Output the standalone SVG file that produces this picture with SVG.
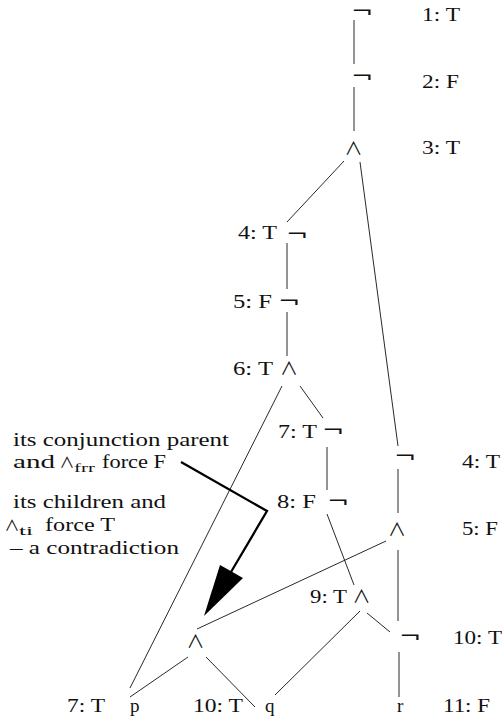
<svg xmlns="http://www.w3.org/2000/svg" width="502" height="724" viewBox="0 0 502 724">
<style>
.t{font-family:"Liberation Serif","DejaVu Serif",serif;font-size:19px;fill:#111}
.sub{font-size:13px}
.neg{font-family:"DejaVu Sans",sans-serif;font-size:19px;fill:#111}
.and{font-family:"Noto Sans CJK JP","DejaVu Sans",sans-serif;font-size:18px;fill:#111;text-anchor:middle}
.nand{font-size:15px}
.e{stroke:#111;stroke-width:0.9;fill:none}
.thick{stroke:#000;stroke-width:2.3;fill:none}
</style>
<rect width="502" height="724" fill="#fff"/>
<g id="edges">
<line class="e" x1="354" y1="20" x2="354" y2="64"/>
<line class="e" x1="354" y1="87" x2="354" y2="131"/>
<line class="e" x1="344" y1="161" x2="287" y2="222"/>
<line class="e" x1="360" y1="162" x2="398" y2="446"/>
<line class="e" x1="287" y1="243" x2="287" y2="289"/>
<line class="e" x1="287" y1="312" x2="287" y2="356"/>
<line class="e" x1="282" y1="386" x2="130" y2="688"/>
<line class="e" x1="300" y1="386" x2="323" y2="418"/>
<line class="e" x1="327" y1="447" x2="327" y2="490"/>
<line class="e" x1="327" y1="514" x2="354" y2="585"/>
<line class="e" x1="360" y1="611" x2="275" y2="695"/>
<line class="e" x1="367" y1="613" x2="390" y2="632"/>
<line class="e" x1="399" y1="652" x2="399" y2="697"/>
<line class="e" x1="398" y1="469" x2="398" y2="513"/>
<line class="e" x1="398" y1="550" x2="398" y2="621"/>
<line class="e" x1="386" y1="541" x2="197" y2="629"/>
<line class="e" x1="188" y1="657" x2="130" y2="697"/>
<line class="e" x1="206" y1="657" x2="255" y2="707"/>
</g>
<g id="n1"><text class="neg" transform="translate(351,18) scale(1.4,1)">¬</text><text class="t" x="422" y="21" textLength="38" lengthAdjust="spacingAndGlyphs">1: T</text></g>
<g id="n2"><text class="neg" transform="translate(351,83) scale(1.4,1)">¬</text><text class="t" x="422" y="88" textLength="37" lengthAdjust="spacingAndGlyphs">2: F</text></g>
<g id="n3"><text class="and" x="353.5" y="155">∧</text><text class="t" x="422" y="154" textLength="38" lengthAdjust="spacingAndGlyphs">3: T</text></g>
<g id="n4l"><text class="t" x="238" y="239" textLength="39" lengthAdjust="spacingAndGlyphs">4: T</text><text class="neg" transform="translate(286,241) scale(1.4,1)">¬</text></g>
<g id="n5l"><text class="t" x="233" y="308" textLength="39" lengthAdjust="spacingAndGlyphs">5: F</text><text class="neg" transform="translate(278,308) scale(1.4,1)">¬</text></g>
<g id="n6"><text class="t" x="233" y="375" textLength="40" lengthAdjust="spacingAndGlyphs">6: T</text><text class="and" x="289" y="375">∧</text></g>
<g id="n7"><text class="t" x="278" y="438" textLength="39" lengthAdjust="spacingAndGlyphs">7: T</text><text class="neg" transform="translate(322,437) scale(1.4,1)">¬</text></g>
<g id="n8"><text class="t" x="277" y="508" textLength="39" lengthAdjust="spacingAndGlyphs">8: F</text><text class="neg" transform="translate(327,508) scale(1.4,1)">¬</text></g>
<g id="n9"><text class="t" x="310" y="603" textLength="37" lengthAdjust="spacingAndGlyphs">9: T</text><text class="and" x="361.5" y="603">∧</text></g>
<g id="n4r"><text class="neg" transform="translate(394,463) scale(1.4,1)">¬</text><text class="t" x="462" y="468" textLength="38" lengthAdjust="spacingAndGlyphs">4: T</text></g>
<g id="n5r"><text class="and" x="397" y="536">∧</text><text class="t" x="462" y="535" textLength="36" lengthAdjust="spacingAndGlyphs">5: F</text></g>
<g id="n10r"><text class="neg" transform="translate(399,643) scale(1.4,1)">¬</text><text class="t" x="453" y="644" textLength="49" lengthAdjust="spacingAndGlyphs">10: T</text></g>
<g id="nr"><text class="t" x="397" y="712">r</text><text class="t" x="443" y="712" textLength="47" lengthAdjust="spacingAndGlyphs">11: F</text></g>
<g id="nand"><text class="and" x="195.5" y="648">∧</text></g>
<g id="np"><text class="t" x="67" y="712" textLength="38" lengthAdjust="spacingAndGlyphs">7: T</text><text class="t" x="130" y="712">p</text></g>
<g id="nq"><text class="t" x="193" y="712" textLength="50" lengthAdjust="spacingAndGlyphs">10: T</text><text class="t" x="265" y="712">q</text></g>
<g id="note">
<text class="t" x="13" y="446" textLength="216" lengthAdjust="spacingAndGlyphs">its conjunction parent</text>
<text class="t" x="13" y="468" textLength="42" lengthAdjust="spacingAndGlyphs">and</text>
<text class="and nand" x="67" y="468">∧</text>
<text class="t sub" x="74" y="472" textLength="21" lengthAdjust="spacingAndGlyphs">frr</text>
<text class="t" x="102" y="468" textLength="64" lengthAdjust="spacingAndGlyphs">force F</text>
<text class="t" x="13" y="508" textLength="153" lengthAdjust="spacingAndGlyphs">its children and</text>
<text class="and nand" x="12" y="531">∧</text>
<text class="t sub" x="19" y="535" textLength="14" lengthAdjust="spacingAndGlyphs">ti</text>
<text class="t" x="45" y="531" textLength="70" lengthAdjust="spacingAndGlyphs">force T</text>
<text class="t" x="10" y="554" textLength="169" lengthAdjust="spacingAndGlyphs">– a contradiction</text>
</g>
<g id="callout">
<polyline class="thick" points="181,462 267,511 231,572"/>
<polygon points="204,616 220,565 243,578" fill="#000"/>
</g>
</svg>
